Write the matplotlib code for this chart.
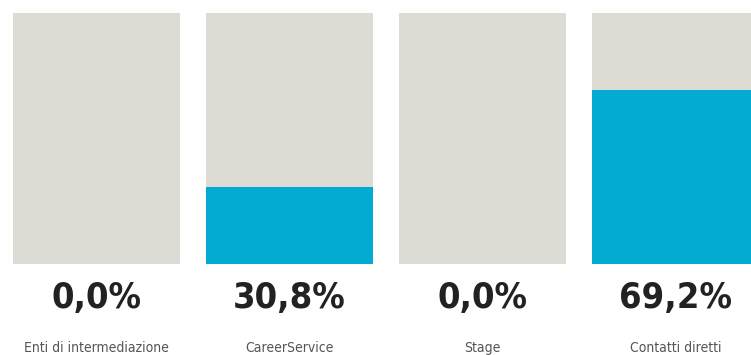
import matplotlib
matplotlib.use("Agg")
import matplotlib.pyplot as plt
from matplotlib import font_manager

# Data
categories = ['Enti di intermediazione', 'CareerService', 'Stage', 'Contatti diretti']
values = [0.0, 30.8, 0.0, 69.2]
value_labels = ['0,0%', '30,8%', '0,0%', '69,2%']

gray = '#dcdcd5'
blue = '#03abd3'

names = sorted(set((f.name, f.stretch, f.weight) for f in font_manager.fontManager.ttflist))
print(names)

fig = plt.figure(figsize=(7.51, 3.55), dpi=100)
ax = fig.add_axes([0, 0.2563, 1, 0.7071])

x = range(len(categories))
bar_w = 167 / 193

# background (100%) and value bars
ax.bar(x, [100] * len(categories), width=bar_w, color=gray, align='center')
ax.bar(x, values, width=bar_w, color=blue, align='center')

ax.set_xlim(-0.5, 3.391)
ax.set_ylim(0, 100)
ax.axis('off')

trans = ax.get_xaxis_transform()
for i, (lab, vlab) in enumerate(zip(categories, value_labels)):
    ax.text(i, -0.135, vlab, transform=trans, ha='center', va='center',
            fontsize=26, fontweight='bold', color='#222222',
            family='DejaVu Sans', fontstretch='condensed', clip_on=False)
    ax.text(i, -0.335, lab, transform=trans, ha='center', va='center',
            fontsize=10, color='#555555',
            family='DejaVu Sans', fontstretch='condensed', clip_on=False)

fig.savefig('out.png', dpi=100)
